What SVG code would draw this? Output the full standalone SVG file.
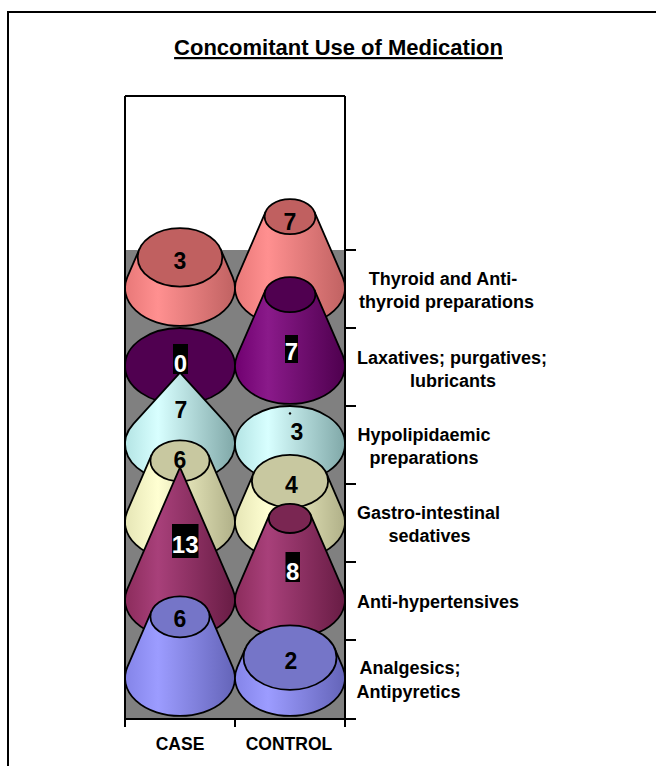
<svg xmlns="http://www.w3.org/2000/svg" width="656" height="766" viewBox="0 0 656 766">
<style>
  .t{font-family:"Liberation Sans",Arial,sans-serif;font-weight:bold;fill:#000}
  .title{font-size:22px;text-decoration:underline}
  .cat{font-size:18px;text-anchor:middle}
  .ax{font-size:17.5px;text-anchor:middle}
  .num{font-size:23px;text-anchor:middle}
  .numw{font-family:"Liberation Sans",Arial,sans-serif;font-weight:bold;font-size:24px;text-anchor:middle;fill:#fff}
  .ln{stroke:#000;stroke-width:2;fill:none}
  .side{stroke:#000;stroke-width:1.8;stroke-linejoin:round}
  .top{stroke:#000;stroke-width:1.8}
</style>
<defs>
  <linearGradient id="gThy" x1="0" y1="0" x2="1" y2="0"><stop offset="0" stop-color="#E87878"/><stop offset="0.3" stop-color="#FF9090"/><stop offset="1" stop-color="#C06262"/></linearGradient>
  <linearGradient id="gLax" x1="0" y1="0" x2="1" y2="0"><stop offset="0" stop-color="#700070"/><stop offset="0.3" stop-color="#8A1A8A"/><stop offset="1" stop-color="#4E004E"/></linearGradient>
  <linearGradient id="gHyp" x1="0" y1="0" x2="1" y2="0"><stop offset="0" stop-color="#B4E4E4"/><stop offset="0.3" stop-color="#D8FFFF"/><stop offset="1" stop-color="#80A8A8"/></linearGradient>
  <linearGradient id="gGas" x1="0" y1="0" x2="1" y2="0"><stop offset="0" stop-color="#E6E6B6"/><stop offset="0.3" stop-color="#FFFFD2"/><stop offset="1" stop-color="#B0B088"/></linearGradient>
  <linearGradient id="gAhy" x1="0" y1="0" x2="1" y2="0"><stop offset="0" stop-color="#8C2C5C"/><stop offset="0.3" stop-color="#A8407A"/><stop offset="1" stop-color="#681C44"/></linearGradient>
  <linearGradient id="gAna" x1="0" y1="0" x2="1" y2="0"><stop offset="0" stop-color="#8484E8"/><stop offset="0.3" stop-color="#9C9CFF"/><stop offset="1" stop-color="#6464B8"/></linearGradient>
</defs>

<rect x="8" y="12" width="700" height="800" fill="#fff" stroke="#000" stroke-width="2"/>

<text class="t title" x="338.5" y="55" text-anchor="middle">Concomitant Use of Medication</text>

<g id="plot">
  <rect x="125" y="96" width="220" height="154" fill="#fff"/>
  <rect x="125" y="250" width="220" height="469" fill="#808080"/>
</g>

<g id="thyroid">
  <g id="thyroid-case">
    <path class="side" fill="url(#gThy)" d="M127.3,277.1 L139.5,249 L220.5,249 L232.7,277.1 A55,38 0 1 1 127.3,277.1 Z"/>
    <ellipse class="top" cx="180" cy="257.4" rx="42.3" ry="29.2" fill="#C06060"/>
  </g>
  <g id="thyroid-control">
    <path class="side" fill="url(#gThy)" d="M237.3,277.1 L265.7,211.6 L314.3,211.6 L342.7,277.1 A55,38 0 1 1 237.3,277.1 Z"/>
    <ellipse class="top" cx="290" cy="216.6" rx="25.4" ry="17.5" fill="#C06060"/>
  </g>
</g>

<g id="laxatives">
  <g id="laxatives-case">
    <ellipse class="top" cx="180" cy="366" rx="55" ry="38" fill="#500050"/>
  </g>
  <g id="laxatives-control">
    <path class="side" fill="url(#gLax)" d="M237.3,355.1 L265.7,289.6 L314.3,289.6 L342.7,355.1 A55,38 0 1 1 237.3,355.1 Z"/>
    <ellipse class="top" cx="290" cy="294.6" rx="25.4" ry="17.5" fill="#500050"/>
  </g>
</g>

<g id="hypolipidaemic">
  <g id="hypolipidaemic-case">
    <path class="side" fill="url(#gHyp)" d="M133.4,423.8 L180,372.6 L226.6,423.8 A55,38 0 1 1 133.4,423.8 Z"/>
  </g>
  <g id="hypolipidaemic-control">
    <ellipse class="top" cx="290" cy="444" rx="55" ry="38" fill="url(#gHyp)"/>
    <circle cx="290" cy="413.4" r="1.2" fill="#000"/>
  </g>
</g>

<g id="gastro">
  <g id="gastro-case">
    <path class="side" fill="url(#gGas)" d="M127.3,511.1 L151.6,454.9 L208.4,454.9 L232.7,511.1 A55,38 0 1 1 127.3,511.1 Z"/>
    <ellipse class="top" cx="180" cy="460.8" rx="29.6" ry="20.5" fill="#C8C8A0"/>
  </g>
  <g id="gastro-control">
    <path class="side" fill="url(#gGas)" d="M237.3,511.1 L253.5,473.7 L326.5,473.7 L342.7,511.1 A55,38 0 1 1 237.3,511.1 Z"/>
    <ellipse class="top" cx="290" cy="481.2" rx="38.1" ry="26.3" fill="#C8C8A0"/>
  </g>
</g>

<g id="antihypertensives">
  <g id="antihypertensives-case">
    <path class="side" fill="url(#gAhy)" d="M127.3,589.1 L180,467.4 L232.7,589.1 A55,38 0 1 1 127.3,589.1 Z"/>
  </g>
  <g id="antihypertensives-control">
    <path class="side" fill="url(#gAhy)" d="M237.3,589.1 L269.7,514.2 L310.3,514.2 L342.7,589.1 A55,38 0 1 1 237.3,589.1 Z"/>
    <ellipse class="top" cx="290" cy="518.4" rx="21.2" ry="14.6" fill="#7A2652"/>
  </g>
</g>

<g id="analgesics">
  <g id="analgesics-case">
    <path class="side" fill="url(#gAna)" d="M127.3,667.1 L151.6,610.9 L208.4,610.9 L232.7,667.1 A55,38 0 1 1 127.3,667.1 Z"/>
    <ellipse class="top" cx="180" cy="616.8" rx="29.6" ry="20.5" fill="#7575C8"/>
  </g>
  <g id="analgesics-control">
    <path class="side" fill="url(#gAna)" d="M237.3,667.1 L245.4,648.4 L334.6,648.4 L342.7,667.1 A55,38 0 1 1 237.3,667.1 Z"/>
    <ellipse class="top" cx="290" cy="657.6" rx="46.5" ry="32.2" fill="#7575C8"/>
  </g>
</g>

<g id="axes">
  <path class="ln" d="M125,96 H345 M125,96 V727 M345,96 V727 M235,719 V727 M125,719 H356"/>
  <path class="ln" d="M345,250 H356 M345,328 H356 M345,406 H356 M345,484 H356 M345,562 H356 M345,640 H356"/>
</g>

<g id="value-labels">
  <text class="t num" x="180" y="269">3</text>
  <text class="t num" x="290" y="230">7</text>
  <rect x="173" y="344" width="15" height="30" fill="#000"/>
  <text class="numw" x="180.5" y="372">0</text>
  <rect x="285" y="335" width="13" height="28" fill="#000"/>
  <text class="numw" x="291.5" y="360">7</text>
  <text class="t num" x="181" y="418">7</text>
  <text class="t num" x="297" y="440">3</text>
  <text class="t num" x="180" y="468">6</text>
  <text class="t num" x="291.5" y="493">4</text>
  <rect x="172" y="524" width="26.5" height="34" fill="#000"/>
  <text class="numw" x="185.2" y="553">13</text>
  <rect x="285.5" y="552" width="14.5" height="30" fill="#000"/>
  <text class="numw" x="292.7" y="580">8</text>
  <text class="t num" x="180" y="627">6</text>
  <text class="t num" x="291" y="669">2</text>
</g>

<g id="category-labels">
  <text class="t cat" x="443" y="285">Thyroid and Anti-</text>
  <text class="t cat" x="446.5" y="308">thyroid preparations</text>
  <text class="t cat" x="452" y="364">Laxatives; purgatives;</text>
  <text class="t cat" x="453" y="387">lubricants</text>
  <text class="t cat" x="424" y="441">Hypolipidaemic</text>
  <text class="t cat" x="424" y="464">preparations</text>
  <text class="t cat" x="428.5" y="519">Gastro-intestinal</text>
  <text class="t cat" x="429.5" y="542">sedatives</text>
  <text class="t cat" x="438" y="608">Anti-hypertensives</text>
  <text class="t cat" x="410" y="674">Analgesics;</text>
  <text class="t cat" x="408.5" y="698">Antipyretics</text>
</g>

<g id="axis-labels">
  <text class="t ax" x="180" y="750">CASE</text>
  <text class="t ax" x="289" y="750">CONTROL</text>
</g>
</svg>
